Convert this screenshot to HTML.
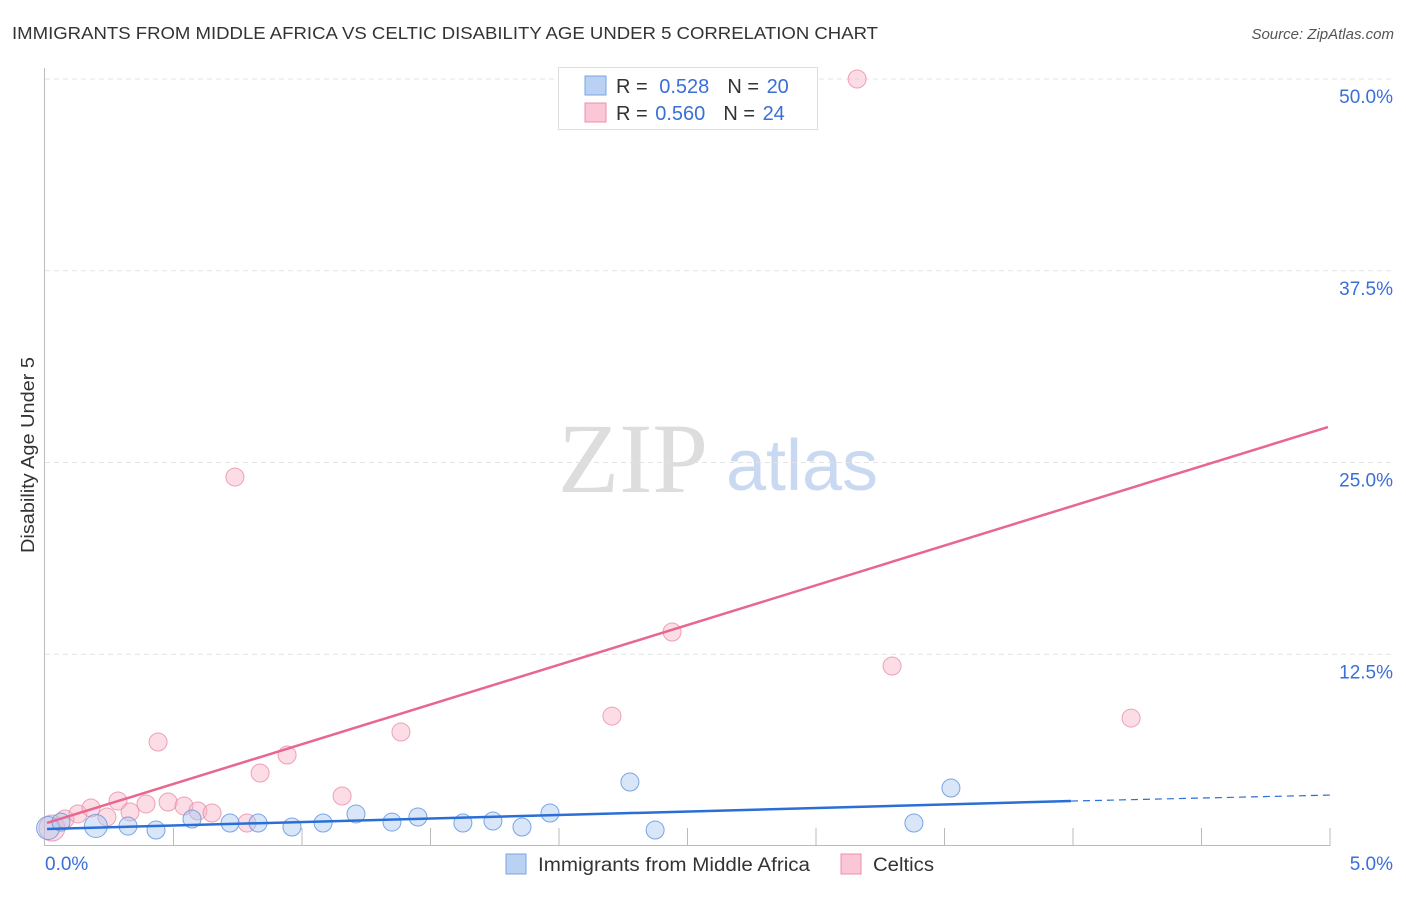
<!DOCTYPE html>
<html><head><meta charset="utf-8">
<style>
body{margin:0;background:#fff;font-family:"Liberation Sans",sans-serif;}
svg text{font-family:"Liberation Sans",sans-serif;}
</style></head>
<body>
<svg id="chart" width="1406" height="892" xmlns="http://www.w3.org/2000/svg">
<text x="12" y="39" font-size="17.5" fill="#333" textLength="866" lengthAdjust="spacingAndGlyphs">IMMIGRANTS FROM MIDDLE AFRICA VS CELTIC DISABILITY AGE UNDER 5 CORRELATION CHART</text>
<text x="1394" y="39" font-size="15" fill="#555" font-style="italic" text-anchor="end">Source: ZipAtlas.com</text>
<text x="633" y="492" font-size="100" fill="#ddd" text-anchor="middle" style="font-family:'Liberation Serif',serif">ZIP</text>
<text x="802" y="490" font-size="72" fill="#c9d9f2" text-anchor="middle">atlas</text>
<text transform="translate(34,455) rotate(-90)" font-size="18" fill="#333" text-anchor="middle" textLength="196" lengthAdjust="spacingAndGlyphs">Disability Age Under 5</text>
<g id="grid"></g>
<g id="marks"></g>
<g>
<rect x="558.5" y="67.5" width="259" height="62" fill="#fff" stroke="#ddd"/>
<rect x="585" y="76" width="21" height="19" fill="#b9d2f3" stroke="#7aa4e0"/>
<rect x="585" y="103" width="21" height="19" fill="#fbc7d6" stroke="#ec8fad"/>
<text x="616" y="93" font-size="20" fill="#333">R = <tspan fill="#3a6fd8" dx="6">0.528</tspan><tspan fill="#333" dx="18">N = </tspan><tspan fill="#3a6fd8" dx="2">20</tspan></text>
<text x="616" y="120" font-size="20" fill="#333">R = <tspan fill="#3a6fd8" dx="2">0.560</tspan><tspan fill="#333" dx="18">N = </tspan><tspan fill="#3a6fd8" dx="2">24</tspan></text>
</g>
<g>
<rect x="506" y="854" width="20" height="20" fill="#b9d2f3" stroke="#7aa4e0"/>
<text x="538" y="871" font-size="19" fill="#333" textLength="272" lengthAdjust="spacingAndGlyphs">Immigrants from Middle Africa</text>
<rect x="841" y="854" width="20" height="20" fill="#fbc7d6" stroke="#ec8fad"/>
<text x="873" y="871" font-size="19" fill="#333" textLength="61" lengthAdjust="spacingAndGlyphs">Celtics</text>
</g>
</svg>
<script>
const yTicks=[12.5,25,37.5,50];
const yTickLabels=["12.5%","25.0%","37.5%","50.0%"];
const xTickLabels=["0.0%","5.0%"];
const blueX=[0.012,0.062,0.198,0.323,0.432,0.572,0.720,0.829,0.961,1.082,1.210,1.350,1.451,1.626,1.743,1.856,1.965,2.276,2.374,3.381,3.525];
const blueY=[1.17,1.56,1.30,1.30,1.04,1.76,1.50,1.50,1.24,1.50,2.09,1.56,1.89,1.50,1.63,1.24,2.15,4.17,1.04,1.50,3.78];
const pinkX=[0.027,0.078,0.128,0.179,0.241,0.284,0.331,0.393,0.440,0.479,0.541,0.595,0.650,0.739,0.786,0.837,0.942,1.156,1.385,2.206,2.440,3.160,3.296,4.226];
const pinkY=[1.17,1.76,2.09,2.48,1.89,2.93,2.22,2.74,6.78,2.87,2.61,2.28,2.15,24.05,1.50,4.76,5.93,3.26,7.43,8.47,13.95,50.0,11.73,8.34];
const pinkTrend=[[0.008,1.5],[4.992,27.31]];
const blueTrend=[[0.008,1.11],[3.992,2.93]];
const blueTrendExt=[[3.992,2.93],[5.0,3.32]];
const NS="http://www.w3.org/2000/svg";
const sx=v=>45+v*257, sy=v=>846-v*15.34;
function mk(t,a,p){const e=document.createElementNS(NS,t);for(const k in a)e.setAttribute(k,a[k]);p.appendChild(e);return e;}
const grid=document.getElementById('grid'), marks=document.getElementById('marks');
yTicks.forEach((v,i)=>{
  const l=mk('line',{x1:45,x2:1395,y1:sy(v),y2:sy(v),stroke:'#e3e3e3','stroke-dasharray':'5,4'},grid);
  
  
  const t=mk('text',{x:1393,y:sy(v)+24,'font-size':19,fill:'#3a6fd8','text-anchor':'end'},grid);
  t.textContent=yTickLabels[i];
  
  
});
const ax=mk('line',{x1:45,x2:1330,y1:845.5,y2:845.5,stroke:'#bbb'},grid);


const ay=mk('line',{x1:44.5,x2:44.5,y1:68,y2:846,stroke:'#bbb'},grid);


for(let i=1;i<=10;i++){const x=sx(i*0.5);
  const tk=mk('line',{x1:x,x2:x,y1:828,y2:846,stroke:'#bbb'},grid);
  
  
}
xTickLabels.forEach((s,i)=>{const t=mk('text',{x:i?1393:45,y:870,'font-size':19,fill:'#3a6fd8','text-anchor':i?'end':'start'},grid);
  t.textContent=s;
  
  
});
pinkX.forEach((x,i)=>{const c=mk('circle',{cx:sx(x),cy:sy(pinkY[i]),r:i==0?13:9,fill:'rgba(248,180,200,0.45)',stroke:'rgba(232,140,170,0.8)'},marks);
  
  
});
blueX.forEach((x,i)=>{const c=mk('circle',{cx:sx(x),cy:sy(blueY[i]),r:(i==0||i==2)?11.5:9,fill:'rgba(170,200,240,0.45)',stroke:'rgba(100,150,225,0.85)'},marks);
  
  
});
const pl=mk('line',{x1:sx(pinkTrend[0][0]),y1:sy(pinkTrend[0][1]),x2:sx(pinkTrend[1][0]),y2:sy(pinkTrend[1][1]),stroke:'#e8678f','stroke-width':2.5},marks);


const bl=mk('line',{x1:sx(blueTrend[0][0]),y1:sy(blueTrend[0][1]),x2:sx(blueTrend[1][0]),y2:sy(blueTrend[1][1]),stroke:'#2a6fd6','stroke-width':2.5},marks);


const bd=mk('line',{x1:sx(blueTrendExt[0][0]),y1:sy(blueTrendExt[0][1]),x2:sx(blueTrendExt[1][0]),y2:sy(blueTrendExt[1][1]),stroke:'#2a6fd6','stroke-width':1.2,'stroke-dasharray':'7,5'},marks);


</script>
</body></html>
